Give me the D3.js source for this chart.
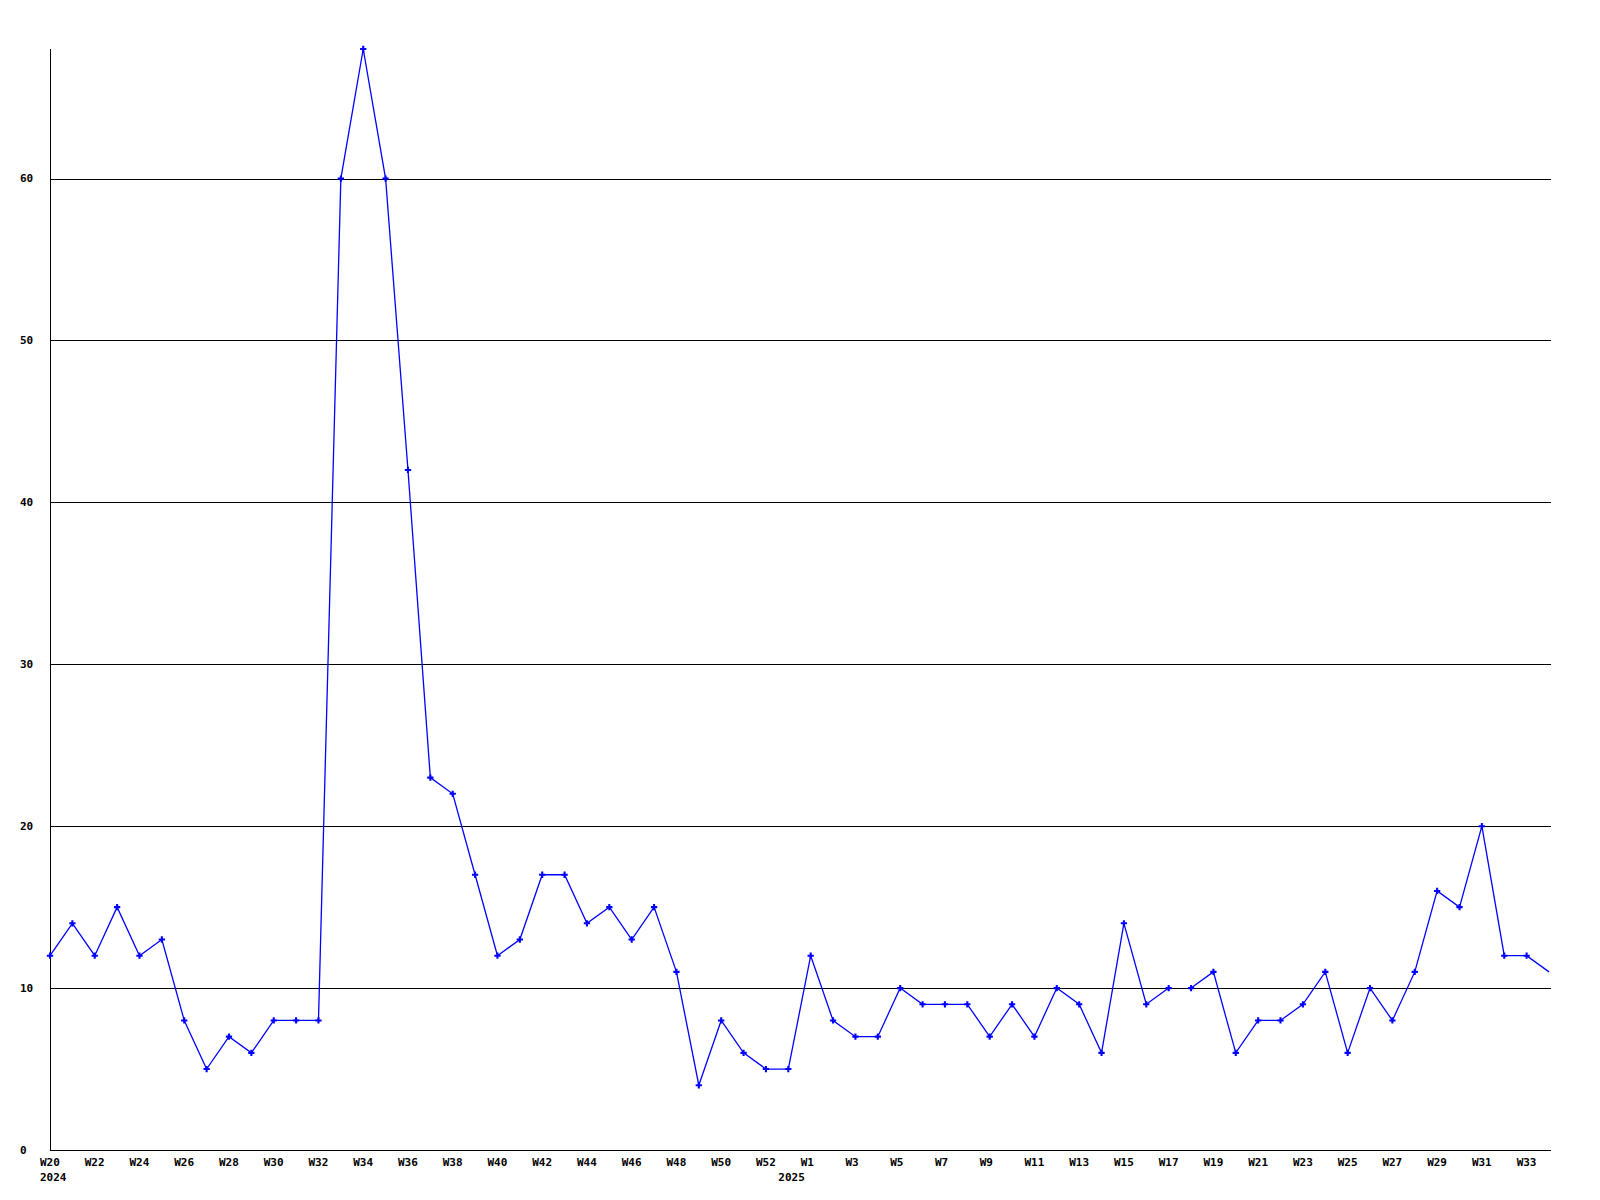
<!DOCTYPE html>
<html>
<head>
<meta charset="utf-8">
<script src="https://cdn.jsdelivr.net/npm/d3@7"></script>
<style>
  html, body { margin: 0; padding: 0; background: #fff; }
  svg { display: block; }
  text { font-family: "DejaVu Sans Mono", "Liberation Mono", monospace; font-weight: bold; font-size: 11px; fill: #000; }
</style>
</head>
<body>
<svg id="chart" width="1600" height="1200"></svg>
<script>
// ---- data ----
const weeks = [
  "2024-W20","2024-W21","2024-W22","2024-W23","2024-W24","2024-W25","2024-W26","2024-W27",
  "2024-W28","2024-W29","2024-W30","2024-W31","2024-W32","2024-W33","2024-W34","2024-W35",
  "2024-W36","2024-W37","2024-W38","2024-W39","2024-W40","2024-W41","2024-W42","2024-W43",
  "2024-W44","2024-W45","2024-W46","2024-W47","2024-W48","2024-W49","2024-W50","2024-W51",
  "2024-W52","2024-W53",
  "2025-W1","2025-W2","2025-W3","2025-W4","2025-W5","2025-W6","2025-W7","2025-W8",
  "2025-W9","2025-W10","2025-W11","2025-W12","2025-W13","2025-W14","2025-W15","2025-W16",
  "2025-W17","2025-W18","2025-W19","2025-W20","2025-W21","2025-W22","2025-W23","2025-W24",
  "2025-W25","2025-W26","2025-W27","2025-W28","2025-W29","2025-W30","2025-W31","2025-W32",
  "2025-W33","2025-W34"
];
const values = [
  12,14,12,15,12,13,8,5,
  7,6,8,8,8,60,68,60,
  42,23,22,17,12,13,17,17,
  14,15,13,15,11,4,8,6,
  5,5,
  12,8,7,7,10,9,9,9,
  7,9,7,10,9,6,14,9,
  10,10,11,6,8,8,9,11,
  6,10,8,11,16,15,20,12,
  12,11
];
// labelled weeks on the x axis (every other week)
const tickWeeks = weeks.filter((w, i) => i % 2 === 0);
// year captions under the axis: [week, text]
const yearMarks = [["2024-W20", "2024"], ["2024-W53", "2025"]];
// the line is interrupted after these weeks
const breaksAfter = ["2025-W17"];
const yTicks = [0, 10, 20, 30, 40, 50, 60];
const yMax = 68;

// ---- layout ----
const mLeft = 50, mRight = 1549, mTop = 49, mBottom = 1150, gridRight = 1551;
const svg = d3.select("#chart");

const x = d3.scalePoint().domain(weeks).range([mLeft, mRight]);
const y = d3.scaleLinear().domain([0, yMax]).range([mBottom, mTop]);

// gridlines
svg.append("g").selectAll("line").data(yTicks.filter(d => d > 0)).join("line")
  .attr("x1", mLeft).attr("x2", gridRight)
  .attr("y1", d => Math.round(y(d)) + 0.5).attr("y2", d => Math.round(y(d)) + 0.5)
  .attr("stroke", "#000").attr("stroke-width", 1);

// axes lines
svg.append("line").attr("x1", mLeft + 0.5).attr("x2", mLeft + 0.5)
  .attr("y1", mTop).attr("y2", mBottom + 0.5).attr("stroke", "#000");
svg.append("line").attr("x1", mLeft).attr("x2", gridRight)
  .attr("y1", mBottom + 0.5).attr("y2", mBottom + 0.5).attr("stroke", "#000");

// y tick labels (left aligned)
svg.append("g").selectAll("text").data(yTicks).join("text")
  .attr("x", 20).attr("y", d => y(d))
  .attr("dominant-baseline", "central")
  .text(d => d);

// x tick labels
svg.append("g").selectAll("text").data(tickWeeks).join("text")
  .attr("x", d => x(d) - 10).attr("y", 1162)
  .attr("dominant-baseline", "central")
  .text(d => d.split("-")[1]);

// year labels
svg.append("g").selectAll("text").data(yearMarks).join("text")
  .attr("x", d => x(d[0]) - 10).attr("y", 1177)
  .attr("dominant-baseline", "central")
  .text(d => d[1]);

// series segments
const pts = weeks.map((w, i) => ({ w, v: values[i] }));
const segments = [];
let cur = [];
pts.forEach(p => {
  cur.push(p);
  if (breaksAfter.includes(p.w)) { segments.push(cur); cur = []; }
});
if (cur.length) segments.push(cur);

const line = d3.line().x(d => x(d.w)).y(d => y(d.v));
svg.append("g").selectAll("path").data(segments).join("path")
  .attr("d", line)
  .attr("fill", "none")
  .attr("stroke", "#0000ff")
  .attr("stroke-width", 1.3);

// markers (last point sits on the plot edge and has none)
const sym = d3.symbol().type(d3.symbolCross).size(22);
svg.append("g").selectAll("path").data(pts.slice(0, -1)).join("path")
  .attr("transform", d => `translate(${x(d.w)},${y(d.v)})`)
  .attr("d", sym)
  .attr("fill", "#0000ff");
</script>
</body>
</html>
